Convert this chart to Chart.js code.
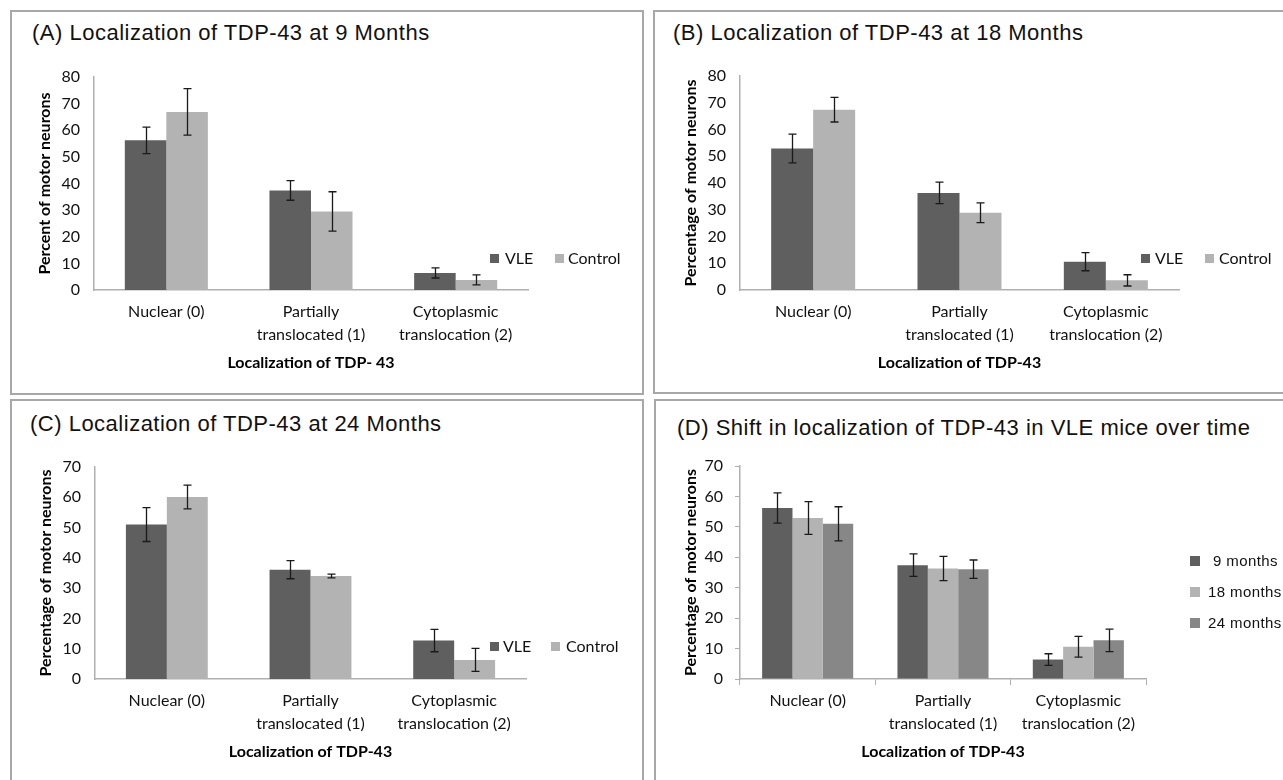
<!DOCTYPE html>
<html>
<head>
<meta charset="utf-8">
<script src="https://cdn.jsdelivr.net/npm/chart.js@4.4.1/dist/chart.umd.min.js"></script>
<style>
  body { margin: 0; background: #fff; width: 1283px; height: 780px; overflow: hidden; position: relative; }
  .box { position: absolute; border: 2px solid #a8a8a8; box-sizing: border-box; }
  .title { position: absolute; font-family: "Liberation Sans", Arial, sans-serif; font-size: 22px; letter-spacing: 0.5px; line-height: 26px; color: #111; white-space: nowrap; }
  canvas { position: absolute; }
  .leg { position: absolute; font-family: Lato, sans-serif; font-size: 16px; color: #111; line-height: 18px; white-space: nowrap; }
  .leg.arial { font-family: "Liberation Sans", Arial, sans-serif; font-size: 15px; letter-spacing: 0.4px; }
  .sw { position: absolute; width: 9px; height: 9px; }
</style>
</head>
<body>

<!-- panel frames -->
<div class="box" style="left:10px;top:10px;width:634px;height:385px;"></div>
<div class="box" style="left:653px;top:10px;width:640px;height:384px;"></div>
<div class="box" style="left:10px;top:399px;width:634px;height:400px;"></div>
<div class="box" style="left:654px;top:399px;width:640px;height:400px;"></div>

<div class="title" style="left:32px;top:20px;">(A) Localization of TDP-43 at 9 Months</div>
<div class="title" style="left:673px;top:20px;">(B) Localization of TDP-43 at 18 Months</div>
<div class="title" style="left:30px;top:411px;">(C) Localization of TDP-43 at 24 Months</div>
<div class="title" style="left:677px;top:415px;">(D) Shift in localization of TDP-43 in VLE mice over time</div>

<canvas id="chartA" width="628" height="342" style="left:13px;top:50px;"></canvas>
<canvas id="chartB" width="627" height="341" style="left:656px;top:50px;"></canvas>
<canvas id="chartC" width="628" height="340" style="left:13px;top:440px;"></canvas>
<canvas id="chartD" width="626" height="340" style="left:657px;top:440px;"></canvas>

<!-- legends -->
<div class="sw" style="left:490px;top:254px;background:#5f5f5f;"></div><div class="leg" style="left:505px;top:249px;">VLE</div>
<div class="sw" style="left:555px;top:254px;background:#b3b3b3;"></div><div class="leg" style="left:568px;top:249px;">Control</div>

<div class="sw" style="left:1141px;top:254px;background:#5f5f5f;"></div><div class="leg" style="left:1155px;top:249px;">VLE</div>
<div class="sw" style="left:1205px;top:254px;background:#b3b3b3;"></div><div class="leg" style="left:1219px;top:249px;">Control</div>

<div class="sw" style="left:490px;top:642px;background:#5f5f5f;"></div><div class="leg" style="left:503px;top:637px;">VLE</div>
<div class="sw" style="left:551px;top:642px;background:#b3b3b3;"></div><div class="leg" style="left:566px;top:637px;">Control</div>

<div class="sw" style="left:1190px;top:556px;width:10px;height:10px;background:#5f5f5f;"></div><div class="leg arial" style="left:1213px;top:552px;">9 months</div>
<div class="sw" style="left:1190px;top:587px;width:10px;height:10px;background:#b3b3b3;"></div><div class="leg arial" style="left:1208px;top:583px;">18 months</div>
<div class="sw" style="left:1190px;top:618px;width:10px;height:10px;background:#878787;"></div><div class="leg arial" style="left:1208px;top:614px;">24 months</div>

<script>
// =================== DATA ===================
const categories = [["Nuclear (0)"], ["Partially", "translocated (1)"], ["Cytoplasmic", "translocation (2)"]];

// (A) 9 months
const vle9 = [56.2, 37.4, 6.4];
const vle9Err = [5.0, 3.7, 1.9];
const ctrl9 = [66.9, 29.5, 3.8];
const ctrl9Err = [8.7, 7.4, 1.9];

// (B) 18 months
const vle18 = [52.9, 36.3, 10.6];
const vle18Err = [5.4, 4.0, 3.4];
const ctrl18 = [67.4, 28.9, 3.6];
const ctrl18Err = [4.6, 3.7, 2.1];

// (C) 24 months
const vle24 = [51.0, 36.1, 12.7];
const vle24Err = [5.6, 3.0, 3.7];
const ctrl24 = [60.1, 34.0, 6.3];
const ctrl24Err = [3.9, 0.6, 3.8];

// y-axis ranges
const yMaxAB = 80;
const yMaxCD = 70;
const yStep = 10;

// =================== STYLE ===================
const DARK = "#5f5f5f";
const LIGHT = "#b3b3b3";
const MID = "#878787";
const TEXT = "#111";
const AXIS = "#b0b0b0";
const FONT = "Lato, sans-serif";

// =================== ERROR BARS ===================
const errorBars = {
  id: "errorBars",
  afterDatasetsDraw(chart) {
    const ctx = chart.ctx;
    const y = chart.scales.y;
    ctx.save();
    ctx.strokeStyle = "#1a1a1a";
    ctx.lineWidth = 1.3;
    chart.data.datasets.forEach((ds, i) => {
      const meta = chart.getDatasetMeta(i);
      meta.data.forEach((bar, j) => {
        const v = ds.data[j], e = ds.errors[j];
        const top = y.getPixelForValue(v + e);
        const bot = y.getPixelForValue(v - e);
        const x = Math.round(bar.x) + 0.5;
        ctx.beginPath();
        ctx.moveTo(x, top); ctx.lineTo(x, bot);
        ctx.moveTo(x - 4, top); ctx.lineTo(x + 4, top);
        ctx.moveTo(x - 4, bot); ctx.lineTo(x + 4, bot);
        ctx.stroke();
      });
    });
    ctx.restore();
  }
};

// =================== BUILD ONE PANEL ===================
// area = plot rectangle in page pixels, canvas position given in page pixels
function makePanel(id, canvasLeft, canvasTop, datasets, yMax, yLabel, xLabel, area, catPct, withTicks) {
  const cv = document.getElementById(id);
  const yTitleX = area.left - 49;          // centre of rotated y title
  const padLeft = yTitleX - 9.6 - canvasLeft;
  const yW = area.left - canvasLeft - padLeft;
  const xH = 82;
  const padBottom = cv.height - (area.bottom - canvasTop) - xH;

  new Chart(cv, {
    type: "bar",
    data: {
      labels: categories,
      datasets: datasets.map(d => ({
        data: d.data,
        errors: d.errors,
        backgroundColor: d.color,
        borderWidth: 0,
        categoryPercentage: catPct,
        barPercentage: 1
      }))
    },
    options: {
      responsive: false,
      animation: false,
      layout: {
        padding: {
          left: padLeft,
          top: area.top - canvasTop,
          right: cv.width - (area.right - canvasLeft),
          bottom: padBottom
        }
      },
      plugins: { legend: { display: false }, tooltip: { enabled: false } },
      scales: {
        x: {
          grid: { display: withTicks, drawOnChartArea: false, drawTicks: withTicks, tickLength: 6, color: AXIS },
          border: { display: true, color: AXIS, width: 1.5 },
          ticks: { color: TEXT, font: { family: FONT, size: 16, lineHeight: 1.4 }, padding: withTicks ? 5 : 11, maxRotation: 0, autoSkip: false },
          title: { display: true, text: xLabel, color: "#000", font: { family: FONT, size: 16, weight: "bold", lineHeight: 1.2 }, padding: 0 },
          afterFit: s => { s.height = xH; }
        },
        y: {
          min: 0,
          max: yMax,
          grid: { display: withTicks, drawOnChartArea: false, drawTicks: withTicks, tickLength: 5, color: AXIS },
          border: { display: true, color: AXIS, width: 1.5 },
          ticks: { stepSize: yStep, color: TEXT, font: { family: FONT, size: 16 }, padding: withTicks ? 12 : 14 },
          title: { display: true, text: yLabel, color: "#000", font: { family: FONT, size: 16, weight: "bold", lineHeight: 1.2 }, padding: 0 },
          afterFit: s => { s.width = yW; }
        }
      }
    },
    plugins: [errorBars]
  });
}

// =================== RENDER ===================
makePanel("chartA", 13, 50,
  [{ data: vle9, errors: vle9Err, color: DARK }, { data: ctrl9, errors: ctrl9Err, color: LIGHT }],
  yMaxAB, "Percent of motor neurons", "Localization of TDP- 43",
  { left: 94, right: 528, top: 77, bottom: 290 }, 0.574, false);

makePanel("chartB", 656, 50,
  [{ data: vle18, errors: vle18Err, color: DARK }, { data: ctrl18, errors: ctrl18Err, color: LIGHT }],
  yMaxAB, "Percentage of motor neurons", "Localization of TDP-43",
  { left: 740, right: 1179, top: 76, bottom: 290 }, 0.574, false);

makePanel("chartC", 13, 440,
  [{ data: vle24, errors: vle24Err, color: DARK }, { data: ctrl24, errors: ctrl24Err, color: LIGHT }],
  yMaxCD, "Percentage of motor neurons", "Localization of TDP-43",
  { left: 95, right: 526, top: 467, bottom: 679 }, 0.57, false);

makePanel("chartD", 657, 440,
  [{ data: vle9, errors: vle9Err, color: DARK }, { data: vle18, errors: vle18Err, color: LIGHT }, { data: vle24, errors: vle24Err, color: MID }],
  yMaxCD, "Percentage of motor neurons", "Localization of TDP-43",
  { left: 740, right: 1146, top: 466, bottom: 679 }, 0.673, true);
</script>
</body>
</html>
